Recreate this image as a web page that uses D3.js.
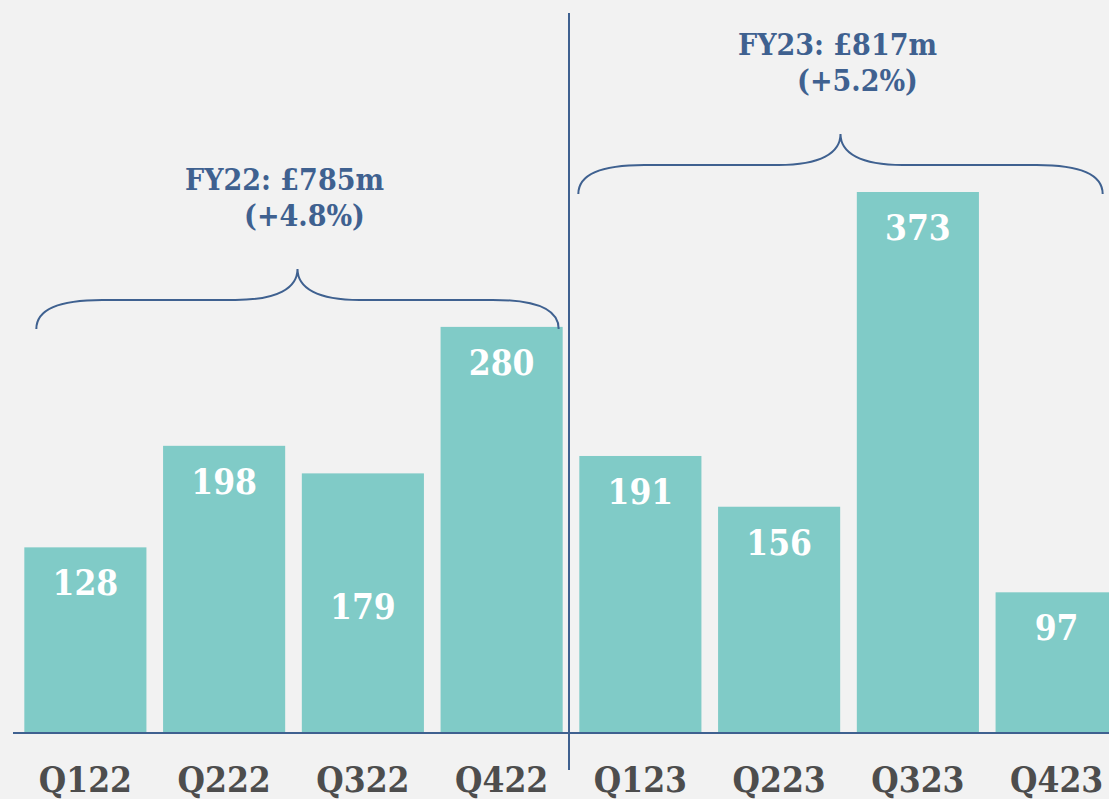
<!DOCTYPE html>
<html>
<head>
<meta charset="utf-8">
<script src="https://cdn.jsdelivr.net/npm/d3@7"></script>
<style>
  html, body { margin: 0; padding: 0; background: #f2f2f2; overflow: hidden; }
  text { font-family: "DejaVu Serif", serif; font-weight: bold; font-stretch: condensed; }
</style>
</head>
<body>
<script>
// quarterly values, £m
var quarters = ["Q122", "Q222", "Q322", "Q422", "Q123", "Q223", "Q323", "Q423"];
var values = [128, 198, 179, 280, 191, 156, 373, 97];

// full-year groups
var years = ["FY22", "FY23"];
var yearTotals = ["£785m", "£817m"];
var yearGrowth = ["+4.8%", "+5.2%"];
var yearFirst = ["Q122", "Q123"];
var yearLast = ["Q422", "Q423"];

var W = 1109, H = 799;
var base = 733;

var svg = d3.select("body")
            .append("svg")
            .attr("width", W)
            .attr("height", H)

svg.append('rect')
    .attr('width', W)
    .attr('height', H)
    .attr('fill', '#f2f2f2');

var x = d3.scaleBand()
    .domain(quarters)
    .range([16, 1126])
    .paddingInner(0.12)
    .paddingOuter(0.06);

var y = d3.scaleLinear()
    .domain([0, 373])
    .range([base, 192]);

// bars
svg.selectAll('rect.bar')
    .data(values)
    .enter()
    .append('rect')
    .attr('class', 'bar')
    .attr('x', function(d, i) { return x(quarters[i]); })
    .attr('y', function(d) { return y(d); })
    .attr('width', x.bandwidth())
    .attr('height', function(d) { return base - y(d); })
    .attr('fill', '#80cbc7');

// value labels (Q322 sits lower in the bar in the original)
svg.selectAll('text.val')
    .data(values)
    .enter()
    .append('text')
    .attr('class', 'val')
    .attr('x', function(d, i) { return x(quarters[i]) + x.bandwidth() / 2; })
    .attr('y', function(d, i) { return quarters[i] == 'Q322' ? y(d) + 146 : y(d) + 48; })
    .attr('text-anchor', 'middle')
    .attr('font-size', 35)
    .attr('fill', 'white')
    .text(function(d) { return d; });

// x axis
var xAxis = svg.append('g')
    .attr('transform', 'translate(0,' + base + ')')
    .call(d3.axisBottom(x).tickSize(0).tickPadding(0));
xAxis.select('.domain').remove();
xAxis.selectAll('text')
    .attr('dy', 59)
    .attr('font-size', 35)
    .attr('font-family', '"DejaVu Serif", serif')
    .attr('fill', '#4d4d4d');

svg.append('line')
    .attr('x1', 13)
    .attr('x2', W)
    .attr('y1', base)
    .attr('y2', base)
    .attr('stroke', '#3f6190')
    .attr('stroke-width', 2);

// year divider
svg.append('line')
    .attr('x1', 569)
    .attr('x2', 569)
    .attr('y1', 13)
    .attr('y2', 770)
    .attr('stroke', '#3f6190')
    .attr('stroke-width', 2);

// braces + year totals
function brace(x0, x1, yb) {
    var xm = (x0 + x1) / 2, yf = yb - 29, yt = yb - 60;
    return 'M' + x0 + ',' + yb +
        ' C' + x0 + ',' + (yf + 6) + ' ' + (x0 + 30) + ',' + yf + ' ' + (x0 + 66) + ',' + yf +
        ' L' + (xm - 62) + ',' + yf +
        ' C' + (xm - 20) + ',' + yf + ' ' + xm + ',' + (yf - 12) + ' ' + xm + ',' + yt +
        ' C' + xm + ',' + (yf - 12) + ' ' + (xm + 20) + ',' + yf + ' ' + (xm + 62) + ',' + yf +
        ' L' + (x1 - 66) + ',' + yf +
        ' C' + (x1 - 30) + ',' + yf + ' ' + x1 + ',' + (yf + 6) + ' ' + x1 + ',' + yb;
}

var braceInset = [[12, -4], [-1, -15]];
var textShift = [0, 10];

years.forEach(function(yr, i) {
    var x0 = x(yearFirst[i]) + braceInset[i][0];
    var x1 = x(yearLast[i]) + x.bandwidth() + braceInset[i][1];
    var grp = quarters.slice(quarters.indexOf(yearFirst[i]), quarters.indexOf(yearLast[i]) + 1);
    var top = d3.max(grp, function(q) { return values[quarters.indexOf(q)]; });
    var yb = y(top) + 2;
    var xm = (x0 + x1) / 2;

    svg.append('path')
        .attr('d', brace(x0, x1, yb))
        .attr('fill', 'none')
        .attr('stroke', '#3f6190')
        .attr('stroke-width', 2);

    svg.append('text')
        .attr('x', xm - 13 + textShift[i])
        .attr('y', yb - 139)
        .attr('text-anchor', 'middle')
        .attr('font-size', 30)
        .attr('fill', '#3f6190')
        .text(yr + ': ' + yearTotals[i]);

    svg.append('text')
        .attr('x', xm + 7 + textShift[i])
        .attr('y', yb - 103)
        .attr('text-anchor', 'middle')
        .attr('font-size', 30)
        .attr('fill', '#3f6190')
        .text('(' + yearGrowth[i] + ')');
});
</script>
</body>
</html>
